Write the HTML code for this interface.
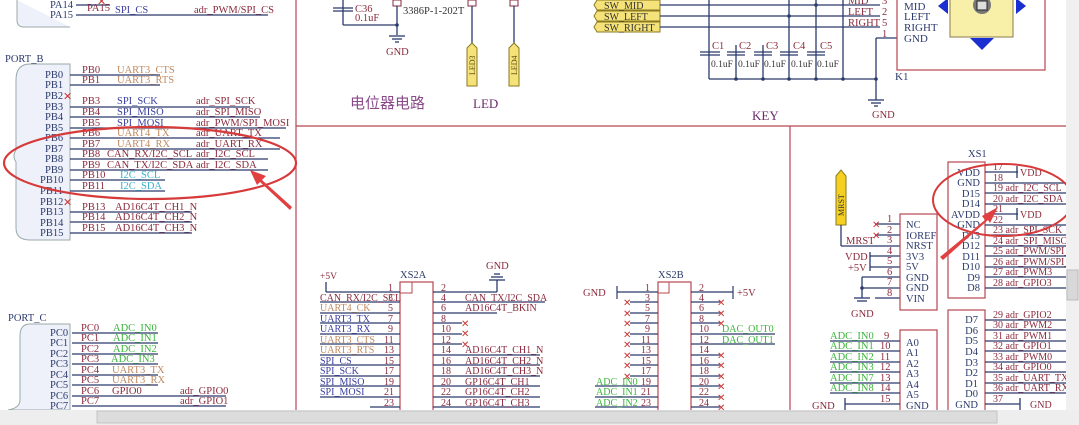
<!DOCTYPE html>
<html><head><meta charset="utf-8"><style>
html,body{margin:0;padding:0;background:#fff;width:1079px;height:425px;overflow:hidden}
svg{display:block}
.p{fill:#2b3a6b}.m{fill:#8a2a3c}.u{fill:#c08a60}.s{fill:#3a3fa0}.i{fill:#3ab0c8}.g{fill:#3cb43c}.k{fill:#333}
.l{stroke:#2b3a6b;stroke-width:1.3}
.r{stroke:#b8474f;stroke-width:1.2;fill:none}
</style></head><body>
<svg width="1079" height="425" viewBox="0 0 1079 425" xmlns="http://www.w3.org/2000/svg" font-family="Liberation Serif, Noto Serif CJK SC, serif" font-size="10.5">
<!-- frame lines -->
<line x1="296" y1="0" x2="296" y2="410" class="r"/>
<line x1="296" y1="126" x2="1066" y2="126" class="r"/>
<line x1="790" y1="126" x2="790" y2="410" class="r"/>
<!-- PORT A tail -->
<path d="M17,0 V20 Q17,27 24,27 H70" fill="#eef1fa" stroke="#9aa" stroke-width="1"/>
<text x="50" y="8" class="p">PA14</text><text x="50" y="18" class="p">PA15</text>
<line x1="76" y1="5" x2="110" y2="5" class="l"/><line x1="76" y1="15" x2="268" y2="15" class="l"/>
<text x="87" y="11" class="m">PA15</text><text x="115" y="13" class="s">SPI_CS</text><text x="194" y="13" class="m">adr_PWM/SPI_CS</text>
<text x="97" y="5" fill="#c33" font-size="11">✕</text>
<!-- PORT B -->
<text x="5" y="62" class="p">PORT_B</text>
<path d="M30,64 Q16,64 16,80 V150 Q12,156 16,162 V228 Q16,240 30,240 H70 V64Z" fill="#eef1fa" stroke="#9aa" stroke-width="1"/>
<g class="p">
<text x="45" y="78">PB0</text><text x="45" y="88">PB1</text><text x="45" y="99">PB2</text><text x="45" y="110">PB3</text><text x="45" y="120">PB4</text><text x="45" y="131">PB5</text><text x="45" y="141">PB6</text><text x="45" y="152">PB7</text><text x="45" y="162">PB8</text><text x="45" y="173">PB9</text><text x="40" y="183">PB10</text><text x="40" y="194">PB11</text><text x="40" y="205">PB12</text><text x="40" y="215">PB13</text><text x="40" y="226">PB14</text><text x="40" y="236">PB15</text></g>
<g class="l">
<line x1="70" y1="75" x2="160" y2="75"/><line x1="70" y1="85" x2="160" y2="85"/>
<line x1="70" y1="107" x2="250" y2="107"/><line x1="70" y1="117" x2="260" y2="117"/><line x1="70" y1="128" x2="286" y2="128"/>
<line x1="70" y1="138" x2="280" y2="138"/><line x1="70" y1="149" x2="280" y2="149"/><line x1="70" y1="159" x2="268" y2="159"/><line x1="70" y1="170" x2="268" y2="170"/>
<line x1="70" y1="180" x2="165" y2="180"/><line x1="70" y1="191" x2="165" y2="191"/>
<line x1="70" y1="212" x2="192" y2="212"/><line x1="70" y1="222" x2="192" y2="222"/><line x1="70" y1="233" x2="192" y2="233"/></g>
<text x="63" y="100" fill="#c33" font-size="11">✕</text><text x="63" y="206" fill="#c33" font-size="11">✕</text>
<g class="m"><text x="82" y="73">PB0</text><text x="82" y="83">PB1</text><text x="82" y="104">PB3</text><text x="82" y="115">PB4</text><text x="82" y="126">PB5</text><text x="82" y="136">PB6</text><text x="82" y="147">PB7</text><text x="82" y="157">PB8</text><text x="82" y="168">PB9</text><text x="82" y="178">PB10</text><text x="82" y="189">PB11</text><text x="82" y="210">PB13</text><text x="82" y="220">PB14</text><text x="82" y="231">PB15</text></g>
<text x="117" y="73" class="u">UART3_CTS</text><text x="117" y="83" class="u">UART3_RTS</text>
<text x="117" y="104" class="s">SPI_SCK</text><text x="117" y="115" class="s">SPI_MISO</text><text x="117" y="126" class="s">SPI_MOSI</text>
<text x="117" y="136" class="u">UART4_TX</text><text x="117" y="147" class="u">UART4_RX</text>
<text x="107" y="157" class="m">CAN_RX/I2C_SCL</text><text x="107" y="168" class="m">CAN_TX/I2C_SDA</text>
<text x="120" y="178" class="i">I2C_SCL</text><text x="120" y="189" class="i">I2C_SDA</text>
<text x="115" y="210" class="m">AD16C4T_CH1_N</text><text x="115" y="220" class="m">AD16C4T_CH2_N</text><text x="115" y="231" class="m">AD16C4T_CH3_N</text>
<g class="m"><text x="196" y="104">adr_SPI_SCK</text><text x="196" y="115">adr_SPI_MISO</text><text x="196" y="126">adr_PWM/SPI_MOSI</text><text x="196" y="136">adr_UART_TX</text><text x="196" y="147">adr_UART_RX</text><text x="196" y="157">adr_I2C_SCL</text><text x="196" y="168">adr_I2C_SDA</text></g>
<ellipse cx="150" cy="163" rx="146" ry="36" fill="none" stroke="#d63a3a" stroke-width="2.2"/>
<path d="M292,207 L262,180 L266,176 L250,170 L257,185 L260,182 L290,210Z" fill="#e04040"/>
<!-- PORT C -->
<text x="8" y="321" class="p">PORT_C</text>
<path d="M30,324 Q20,324 20,336 V400 Q20,408 8,410 H70 V324Z" fill="#eef1fa" stroke="#9aa" stroke-width="1"/>
<g class="p"><text x="50" y="336">PC0</text><text x="50" y="346">PC1</text><text x="50" y="357">PC2</text><text x="50" y="367">PC3</text><text x="50" y="378">PC4</text><text x="50" y="388">PC5</text><text x="50" y="399">PC6</text><text x="50" y="409">PC7</text></g>
<g class="l"><line x1="72" y1="333" x2="158" y2="333"/><line x1="72" y1="343" x2="158" y2="343"/><line x1="72" y1="354" x2="158" y2="354"/><line x1="72" y1="364" x2="158" y2="364"/><line x1="72" y1="375" x2="158" y2="375"/><line x1="72" y1="385" x2="158" y2="385"/><line x1="72" y1="396" x2="226" y2="396"/><line x1="72" y1="406" x2="226" y2="406"/></g>
<g class="m"><text x="81" y="331">PC0</text><text x="81" y="341">PC1</text><text x="81" y="352">PC2</text><text x="81" y="362">PC3</text><text x="81" y="373">PC4</text><text x="81" y="383">PC5</text><text x="81" y="394">PC6</text><text x="81" y="404">PC7</text><text x="112" y="394">GPIO0</text><text x="180" y="394">adr_GPIO0</text><text x="180" y="404">adr_GPIO1</text></g>
<g class="g"><text x="113" y="331">ADC_IN0</text><text x="113" y="341">ADC_IN1</text><text x="113" y="352">ADC_IN2</text><text x="111" y="362">ADC_IN3</text></g>
<text x="112" y="373" class="u">UART3_TX</text><text x="112" y="383" class="u">UART3_RX</text>
<!-- potentiometer / LED -->
<line x1="343" y1="0" x2="343" y2="25" class="l"/><line x1="343" y1="25" x2="397" y2="25" class="l"/>
<line x1="333" y1="8" x2="353" y2="8" class="l"/><line x1="333" y1="11" x2="353" y2="11" class="l"/>
<text x="355" y="12" class="m">C36</text><text x="355" y="21" class="m">0.1uF</text>
<rect x="393" y="0" width="8" height="6" fill="#fff" stroke="#8a2a3c"/>
<line x1="397" y1="6" x2="397" y2="35" class="l"/><circle cx="397" cy="25" r="1.8" fill="#2b3a6b"/>
<line x1="389" y1="36" x2="405" y2="36" class="l"/><line x1="392" y1="39" x2="402" y2="39" class="l"/><line x1="395" y1="42" x2="399" y2="42" class="l"/>
<text x="386" y="55" class="m">GND</text><text x="403" y="14" class="k">3386P-1-202T</text>
<rect x="468" y="0" width="8" height="6" fill="#fff" stroke="#8a2a3c"/><rect x="510" y="0" width="8" height="6" fill="#fff" stroke="#8a2a3c"/>
<line x1="472" y1="6" x2="472" y2="44" class="l"/><line x1="514" y1="6" x2="514" y2="44" class="l"/>
<path d="M467,48 L472,43 L477,48 V86 H467Z" fill="#f5e37a" stroke="#8a7a20"/><path d="M509,48 L514,43 L519,48 V86 H509Z" fill="#f5e37a" stroke="#8a7a20"/>
<text transform="translate(475,75) rotate(-90)" font-size="8" fill="#5a4a10">LED3</text><text transform="translate(517,75) rotate(-90)" font-size="8" fill="#5a4a10">LED4</text>
<text x="350" y="108" fill="#8a4a8a" font-size="15" font-family="Noto Sans CJK SC, sans-serif">电位器电路</text>
<text x="473" y="108" fill="#6a2a6a" font-size="13">LED</text>
<text x="752" y="120" fill="#6a2a6a" font-size="13">KEY</text>
<!-- SW tags -->
<g fill="#f5e37a" stroke="#8a7a20"><path d="M597,0 H660 V10 H597 L594,5Z"/><path d="M597,11 H660 V21 H597 L594,16Z"/><path d="M597,22 H660 V32 H597 L594,27Z"/></g>
<g fill="#333" font-size="10"><text x="604" y="9">SW_MID</text><text x="604" y="20">SW_LEFT</text><text x="604" y="31">SW_RIGHT</text></g>
<g class="l"><line x1="660" y1="5" x2="880" y2="5"/><line x1="660" y1="16" x2="880" y2="16"/><line x1="660" y1="27" x2="880" y2="27"/>
<line x1="709" y1="0" x2="709" y2="79"/><line x1="709" y1="79" x2="876" y2="79"/>
<line x1="736" y1="45" x2="736" y2="79"/><line x1="763" y1="45" x2="763" y2="79"/><line x1="789" y1="0" x2="789" y2="79"/><line x1="816" y1="0" x2="816" y2="79"/><line x1="843" y1="0" x2="843" y2="79"/>
<line x1="876" y1="38" x2="876" y2="100"/><line x1="876" y1="38" x2="897" y2="38"/>
<line x1="868" y1="100" x2="884" y2="100"/><line x1="871" y1="103" x2="881" y2="103"/><line x1="874" y1="106" x2="878" y2="106"/></g>
<g class="l"><line x1="700" y1="52" x2="720" y2="52"/><line x1="700" y1="55" x2="720" y2="55"/><line x1="727" y1="52" x2="745" y2="52"/><line x1="727" y1="55" x2="745" y2="55"/><line x1="754" y1="52" x2="772" y2="52"/><line x1="754" y1="55" x2="772" y2="55"/><line x1="780" y1="52" x2="798" y2="52"/><line x1="780" y1="55" x2="798" y2="55"/><line x1="807" y1="52" x2="825" y2="52"/><line x1="807" y1="55" x2="825" y2="55"/></g>
<g class="m"><text x="712" y="49">C1</text><text x="739" y="49">C2</text><text x="766" y="49">C3</text><text x="793" y="49">C4</text><text x="820" y="49">C5</text></g>
<g class="k" font-size="9.5"><text x="711" y="67">0.1uF</text><text x="738" y="67">0.1uF</text><text x="764" y="67">0.1uF</text><text x="791" y="67">0.1uF</text><text x="817" y="67">0.1uF</text></g>
<g fill="#2b3a6b"><circle cx="789" cy="16" r="1.8"/><circle cx="816" cy="5" r="1.8"/><circle cx="736" cy="79" r="1.8"/><circle cx="763" cy="79" r="1.8"/><circle cx="789" cy="79" r="1.8"/><circle cx="816" cy="79" r="1.8"/><circle cx="843" cy="79" r="1.8"/><circle cx="876" cy="79" r="1.8"/></g>
<g class="m"><text x="848" y="4">MID</text><text x="848" y="15">LEFT</text><text x="848" y="26">RIGHT</text><text x="882" y="4">3</text><text x="882" y="15">2</text><text x="882" y="26">5</text><text x="882" y="37">1</text></g>
<text x="872" y="118" class="m">GND</text>
<rect x="897" y="-2" width="148" height="72" fill="none" stroke="#b8474f" stroke-width="1.2"/>
<g class="p" font-size="11"><text x="904" y="10">MID</text><text x="904" y="20">LEFT</text><text x="904" y="31">RIGHT</text><text x="904" y="42">GND</text><text x="895" y="80">K1</text></g>
<rect x="950" y="-2" width="63" height="39" fill="#f8f0a8" stroke="#8a7a50"/>
<circle cx="982" cy="5" r="9" fill="#777"/><rect x="977" y="1" width="10" height="9" fill="#ddd" stroke="#222"/>
<path d="M938,6 L948,-2 V14Z M1026,6 L1016,-2 V14Z M970,38 H994 L982,50Z" fill="#1b2fd0"/>
<!-- XS1 -->
<text x="968" y="157" class="p">XS1</text>
<rect x="948" y="162" width="37" height="136" fill="none" stroke="#b8474f" stroke-width="1.2"/>
<g class="p" font-size="10.5" text-anchor="end"><text x="980" y="176">VDD</text><text x="980" y="186">GND</text><text x="980" y="197">D15</text><text x="980" y="207">D14</text><text x="980" y="218">AVDD</text><text x="980" y="228">GND</text><text x="980" y="239">D13</text><text x="980" y="249">D12</text><text x="980" y="260">D11</text><text x="980" y="270">D10</text><text x="980" y="281">D9</text><text x="980" y="291">D8</text></g>
<g class="l"><line x1="985" y1="172" x2="1018" y2="172"/><line x1="985" y1="183" x2="1066" y2="183"/><line x1="985" y1="193" x2="1066" y2="193"/><line x1="985" y1="204" x2="1066" y2="204"/><line x1="985" y1="214" x2="1018" y2="214"/><line x1="985" y1="225" x2="1066" y2="225"/><line x1="985" y1="235" x2="1066" y2="235"/><line x1="985" y1="246" x2="1066" y2="246"/><line x1="985" y1="256" x2="1066" y2="256"/><line x1="985" y1="267" x2="1066" y2="267"/><line x1="985" y1="277" x2="1066" y2="277"/><line x1="985" y1="288" x2="1066" y2="288"/><line x1="1017" y1="166" x2="1017" y2="178"/><line x1="1017" y1="208" x2="1017" y2="220"/></g>
<g class="m" font-size="10"><text x="993" y="170">17</text><text x="993" y="181">18</text><text x="993" y="191">19 adr_I2C_SCL</text><text x="993" y="202">20 adr_I2C_SDA</text><text x="993" y="212">21</text><text x="993" y="223">22</text><text x="993" y="233">23 adr_SPI_SCK</text><text x="993" y="244">24 adr_SPI_MISO</text><text x="993" y="254">25 adr_PWM/SPI_</text><text x="993" y="265">26 adr_PWM/SPI_</text><text x="993" y="275">27 adr_PWM3</text><text x="993" y="286">28 adr_GPIO3</text><text x="1020" y="176">VDD</text><text x="1020" y="218">VDD</text></g>
<ellipse cx="1003" cy="200" rx="70" ry="36" fill="none" stroke="#d63a3a" stroke-width="2"/>
<path d="M940,257 L985,220 L982,216 L998,207 L990,223 L988,220 L943,260Z" fill="#e04040"/>
<!-- MRST / power box -->
<path d="M836,176 L841,170 L846,176 V225 H836Z" fill="#f5d020" stroke="#8a7a20"/>
<text transform="translate(844,216) rotate(-90)" font-size="8" fill="#333">MRST</text>
<g class="l"><line x1="841" y1="225" x2="841" y2="246"/><line x1="841" y1="246" x2="900" y2="246"/><line x1="875" y1="224" x2="900" y2="224"/><line x1="875" y1="235" x2="900" y2="235"/><line x1="870" y1="256" x2="900" y2="256"/><line x1="870" y1="267" x2="900" y2="267"/><line x1="862" y1="277" x2="900" y2="277"/><line x1="862" y1="288" x2="900" y2="288"/><line x1="875" y1="298" x2="900" y2="298"/><line x1="862" y1="277" x2="862" y2="298"/><line x1="870" y1="252" x2="870" y2="271"/><line x1="854" y1="298" x2="870" y2="298"/><line x1="857" y1="301" x2="867" y2="301"/></g>
<circle cx="862" cy="288" r="1.8" fill="#2b3a6b"/>
<text x="872" y="228" fill="#c33" font-size="10">✕</text><text x="872" y="239" fill="#c33" font-size="10">✕</text>
<g class="m"><text x="887" y="222">1</text><text x="887" y="233">2</text><text x="887" y="243">3</text><text x="887" y="254">4</text><text x="887" y="264">5</text><text x="887" y="275">6</text><text x="887" y="285">7</text><text x="887" y="296">8</text><text x="846" y="244">MRST</text><text x="845" y="260">VDD</text><text x="848" y="271">+5V</text><text x="851" y="317">GND</text></g>
<rect x="900" y="214" width="37" height="96" fill="none" stroke="#b8474f" stroke-width="1.2"/>
<g class="p"><text x="906" y="228">NC</text><text x="906" y="239">IOREF</text><text x="906" y="249">NRST</text><text x="906" y="260">3V3</text><text x="906" y="270">5V</text><text x="906" y="281">GND</text><text x="906" y="291">GND</text><text x="906" y="302">VIN</text></g>
<!-- lower right boxes -->
<rect x="948" y="310" width="37" height="110" fill="none" stroke="#b8474f" stroke-width="1.2"/>
<g class="p" text-anchor="end"><text x="978" y="323">D7</text><text x="978" y="334">D6</text><text x="978" y="344">D5</text><text x="978" y="355">D4</text><text x="978" y="366">D3</text><text x="978" y="376">D2</text><text x="978" y="387">D1</text><text x="978" y="397">D0</text><text x="978" y="408">GND</text></g>
<g class="l"><line x1="985" y1="320" x2="1066" y2="320"/><line x1="985" y1="330" x2="1066" y2="330"/><line x1="985" y1="341" x2="1066" y2="341"/><line x1="985" y1="351" x2="1066" y2="351"/><line x1="985" y1="362" x2="1066" y2="362"/><line x1="985" y1="372" x2="1066" y2="372"/><line x1="985" y1="383" x2="1066" y2="383"/><line x1="985" y1="393" x2="1066" y2="393"/><line x1="985" y1="404" x2="1020" y2="404"/><line x1="1020" y1="398" x2="1020" y2="410"/></g>
<g class="m" font-size="10"><text x="993" y="318">29 adr_GPIO2</text><text x="993" y="328">30 adr_PWM2</text><text x="993" y="339">31 adr_PWM1</text><text x="993" y="349">32 adr_GPIO1</text><text x="993" y="360">33 adr_PWM0</text><text x="993" y="370">34 adr_GPIO0</text><text x="993" y="381">35 adr_UART_TX</text><text x="993" y="391">36 adr_UART_RX</text><text x="993" y="402">37</text><text x="1030" y="408">GND</text></g>
<rect x="900" y="330" width="37" height="90" fill="none" stroke="#b8474f" stroke-width="1.2"/>
<g class="p"><text x="906" y="346">A0</text><text x="906" y="356">A1</text><text x="906" y="367">A2</text><text x="906" y="377">A3</text><text x="906" y="388">A4</text><text x="906" y="398">A5</text><text x="906" y="409">GND</text></g>
<g class="l"><line x1="830" y1="341" x2="900" y2="341"/><line x1="830" y1="351" x2="900" y2="351"/><line x1="830" y1="362" x2="900" y2="362"/><line x1="830" y1="372" x2="900" y2="372"/><line x1="830" y1="383" x2="900" y2="383"/><line x1="830" y1="393" x2="900" y2="393"/><line x1="845" y1="404" x2="900" y2="404"/><line x1="845" y1="398" x2="845" y2="410"/></g>
<g class="g"><text x="830" y="339">ADC_IN0</text><text x="830" y="349">ADC_IN1</text><text x="830" y="360">ADC_IN2</text><text x="830" y="370">ADC_IN3</text><text x="830" y="381">ADC_IN7</text><text x="830" y="391">ADC_IN8</text></g>
<g class="m"><text x="884" y="339">9</text><text x="880" y="349">10</text><text x="880" y="360">11</text><text x="880" y="370">12</text><text x="880" y="381">13</text><text x="880" y="391">14</text><text x="880" y="402">15</text><text x="812" y="409">GND</text></g>
<!-- XS2A -->
<text x="400" y="278" class="p">XS2A</text><text x="320" y="279" class="m" font-size="9.5">+5V</text><text x="486" y="269" class="m">GND</text>
<rect x="400" y="282" width="33" height="140" fill="none" stroke="#b8474f" stroke-width="1.2"/>
<rect x="400" y="282" width="12" height="11" fill="none" stroke="#b8474f"/>
<g class="l"><line x1="326" y1="282" x2="326" y2="292"/><line x1="326" y1="292" x2="400" y2="292"/><line x1="433" y1="292" x2="497" y2="292"/><line x1="497" y1="280" x2="497" y2="292"/><line x1="489" y1="280" x2="505" y2="280"/><line x1="491" y1="277" x2="503" y2="277"/><line x1="494" y1="274" x2="500" y2="274"/></g>
<g stroke="#2b3a6b" stroke-width="1.2">
<line x1="320" y1="302" x2="400" y2="302"/><line x1="320" y1="313" x2="400" y2="313"/><line x1="320" y1="323" x2="400" y2="323"/><line x1="320" y1="334" x2="400" y2="334"/><line x1="320" y1="344" x2="400" y2="344"/><line x1="320" y1="355" x2="400" y2="355"/><line x1="320" y1="365" x2="400" y2="365"/><line x1="320" y1="376" x2="400" y2="376"/><line x1="320" y1="386" x2="400" y2="386"/><line x1="320" y1="397" x2="400" y2="397"/><line x1="370" y1="407" x2="400" y2="407"/>
<line x1="433" y1="302" x2="545" y2="302"/><line x1="433" y1="313" x2="497" y2="313"/><line x1="433" y1="323" x2="462" y2="323"/><line x1="433" y1="334" x2="462" y2="334"/><line x1="433" y1="344" x2="462" y2="344"/><line x1="433" y1="355" x2="540" y2="355"/><line x1="433" y1="365" x2="540" y2="365"/><line x1="433" y1="376" x2="540" y2="376"/><line x1="433" y1="386" x2="540" y2="386"/><line x1="433" y1="397" x2="540" y2="397"/><line x1="433" y1="407" x2="540" y2="407"/></g>
<g class="m" font-size="10"><text x="388" y="291">1</text><text x="388" y="301">3</text><text x="388" y="311">5</text><text x="388" y="322">7</text><text x="388" y="332">9</text><text x="384" y="343">11</text><text x="384" y="353">13</text><text x="384" y="364">15</text><text x="384" y="374">17</text><text x="384" y="385">19</text><text x="384" y="395">21</text><text x="384" y="406">23</text>
<text x="441" y="291">2</text><text x="441" y="301">4</text><text x="441" y="311">6</text><text x="441" y="322">8</text><text x="441" y="332">10</text><text x="441" y="343">12</text><text x="441" y="353">14</text><text x="441" y="364">16</text><text x="441" y="374">18</text><text x="441" y="385">20</text><text x="441" y="395">22</text><text x="441" y="406">24</text>
<text x="320" y="301">CAN_RX/I2C_SCL</text><text x="465" y="301">CAN_TX/I2C_SDA</text><text x="465" y="311">AD16C4T_BKIN</text><text x="465" y="353">AD16C4T_CH1_N</text><text x="465" y="364">AD16C4T_CH2_N</text><text x="465" y="374">AD16C4T_CH3_N</text><text x="465" y="385">GP16C4T_CH1</text><text x="465" y="395">GP16C4T_CH2</text><text x="465" y="406">GP16C4T_CH3</text></g>
<g class="u" font-size="10"><text x="320" y="311">UART4_CK</text><text x="320" y="343">UART3_CTS</text><text x="320" y="353">UART3_RTS</text></g>
<g class="s" font-size="10"><text x="320" y="322">UART3_TX</text><text x="320" y="332">UART3_RX</text><text x="320" y="364">SPI_CS</text><text x="320" y="374">SPI_SCK</text><text x="320" y="385">SPI_MISO</text><text x="320" y="395">SPI_MOSI</text></g>
<g fill="#c33" font-size="10"><text x="461" y="327">✕</text><text x="461" y="337">✕</text><text x="461" y="348">✕</text></g>
<!-- XS2B -->
<text x="658" y="278" class="p">XS2B</text>
<rect x="658" y="282" width="33" height="140" fill="none" stroke="#b8474f" stroke-width="1.2"/>
<rect x="658" y="282" width="11" height="11" fill="none" stroke="#b8474f"/>
<g stroke="#2b3a6b" stroke-width="1.2">
<line x1="617" y1="292" x2="658" y2="292"/><line x1="691" y1="292" x2="733" y2="292"/><line x1="617" y1="286" x2="617" y2="299"/><line x1="733" y1="286" x2="733" y2="299"/>
<line x1="630" y1="302" x2="658" y2="302"/><line x1="630" y1="313" x2="658" y2="313"/><line x1="630" y1="323" x2="658" y2="323"/><line x1="630" y1="334" x2="658" y2="334"/><line x1="630" y1="344" x2="658" y2="344"/><line x1="630" y1="355" x2="658" y2="355"/><line x1="630" y1="365" x2="658" y2="365"/><line x1="630" y1="376" x2="658" y2="376"/><line x1="595" y1="386" x2="658" y2="386"/><line x1="595" y1="397" x2="658" y2="397"/><line x1="595" y1="407" x2="658" y2="407"/>
<line x1="691" y1="302" x2="720" y2="302"/><line x1="691" y1="313" x2="720" y2="313"/><line x1="691" y1="323" x2="720" y2="323"/><line x1="691" y1="334" x2="775" y2="334"/><line x1="691" y1="344" x2="775" y2="344"/><line x1="691" y1="355" x2="720" y2="355"/><line x1="691" y1="365" x2="720" y2="365"/><line x1="691" y1="376" x2="720" y2="376"/><line x1="691" y1="386" x2="720" y2="386"/><line x1="691" y1="397" x2="720" y2="397"/><line x1="691" y1="407" x2="720" y2="407"/></g>
<text x="583" y="296" class="m">GND</text><text x="737" y="296" class="m">+5V</text>
<g class="m" font-size="10"><text x="645" y="291">1</text><text x="645" y="301">3</text><text x="645" y="311">5</text><text x="645" y="322">7</text><text x="645" y="332">9</text><text x="641" y="343">11</text><text x="641" y="353">13</text><text x="641" y="364">15</text><text x="641" y="374">17</text><text x="641" y="385">19</text><text x="641" y="395">21</text><text x="641" y="406">23</text>
<text x="699" y="291">2</text><text x="699" y="301">4</text><text x="699" y="311">6</text><text x="699" y="322">8</text><text x="699" y="332">10</text><text x="699" y="343">12</text><text x="699" y="353">14</text><text x="699" y="364">16</text><text x="699" y="374">18</text><text x="699" y="385">20</text><text x="699" y="395">22</text><text x="699" y="406">24</text></g>
<g class="g" font-size="10"><text x="596" y="385">ADC_IN0</text><text x="596" y="395">ADC_IN1</text><text x="596" y="406">ADC_IN2</text><text x="722" y="332">DAC_OUT0</text><text x="722" y="343">DAC_OUT1</text></g>
<g fill="#c33" font-size="10"><text x="623" y="306">✕</text><text x="623" y="317">✕</text><text x="623" y="327">✕</text><text x="623" y="338">✕</text><text x="623" y="348">✕</text><text x="623" y="359">✕</text><text x="623" y="369">✕</text><text x="623" y="380">✕</text>
<text x="717" y="306">✕</text><text x="717" y="317">✕</text><text x="717" y="327">✕</text><text x="717" y="359">✕</text><text x="717" y="369">✕</text><text x="717" y="380">✕</text><text x="717" y="390">✕</text><text x="717" y="401">✕</text><text x="717" y="411">✕</text></g>
<!-- scrollbars -->
<rect x="1066" y="0" width="13" height="425" fill="#f0f0f0"/>
<rect x="1067" y="270" width="11" height="30" fill="#d8d8d8" stroke="#bbb"/>
<rect x="0" y="410" width="1079" height="15" fill="#eeeeee"/>
<rect x="97" y="411" width="900" height="12" fill="#dcdcdc" stroke="#c4c4c4"/>
</svg>
</body></html>
